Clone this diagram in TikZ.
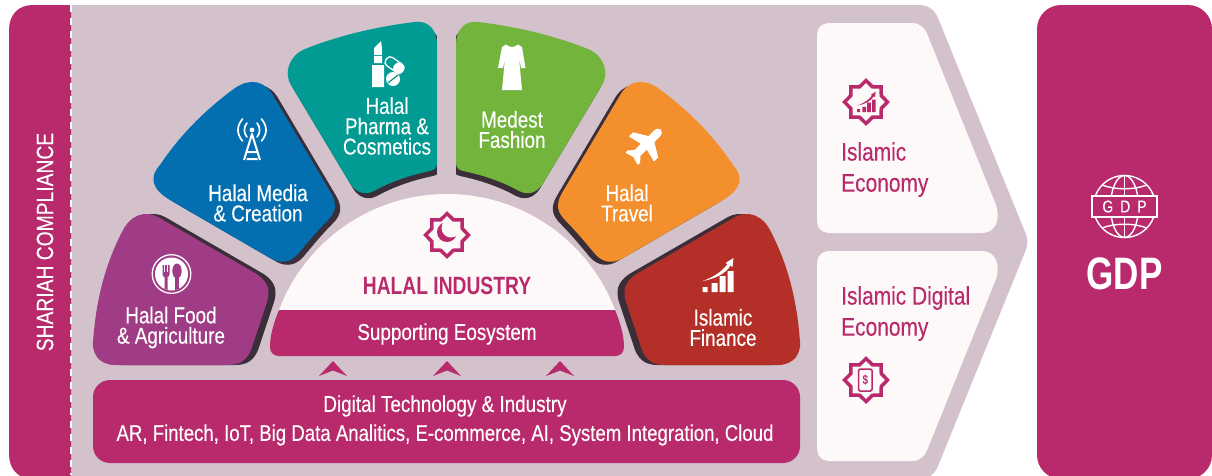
\documentclass[tikz,border=0pt]{standalone}
\usepackage{fontspec}
\setmainfont{Liberation Sans}[FakeStretch=0.82,FakeBold=0.2]
\newfontfamily\condb{Liberation Sans}[FakeStretch=0.77]
\definecolor{magenta1}{HTML}{B92A6C}
\definecolor{mauve}{HTML}{D3C1CB}
\definecolor{panelc}{HTML}{FEF9F9}
\definecolor{shadowc}{HTML}{3A2F38}
\definecolor{purplec}{HTML}{A03C85}
\definecolor{bluec}{HTML}{036EB0}
\definecolor{tealc}{HTML}{019B93}
\definecolor{greenc}{HTML}{72B43C}
\definecolor{orangec}{HTML}{F48F2D}
\definecolor{redc}{HTML}{B32F27}
\newcommand\petalFood{(158,217) -- (255,273) .. controls (270,282) and (270,292) .. (267,302) -- (251,350) .. controls (246,362) and (238,365) .. (228,365) -- (115,365) .. controls (98,365) and (92,352) .. (93,342) .. controls (96,300) and (105,265) .. (122,232) .. controls (130,215) and (145,210) .. (158,217) -- cycle}
\newcommand\petalMedia{(274,97) -- (331,193) .. controls (338,205) and (335,213) .. (328,220) .. controls (318,230) and (307,243) .. (298,254) .. controls (290,263) and (280,264) .. (270,258) -- (170,200) .. controls (153,190) and (148,178) .. (160,165) .. controls (180,135) and (205,110) .. (235,88) .. controls (250,78) and (265,80) .. (274,97) -- cycle}
\newcommand\petalPharma{(415,22) .. controls (428,20) and (437,30) .. (437,44) -- (437,163) .. controls (437,168) and (434,170) .. (430,171) .. controls (410,175) and (390,182) .. (374,191) .. controls (362,197) and (353,190) .. (348,180) -- (291,85) .. controls (283,72) and (290,55) .. (305,49) .. controls (340,35) and (380,26) .. (415,22) -- cycle}
\newcommand\petal[3]{\fill[shadowc,shift={(#3)}] #1; \fill[#2] #1;}
\newcommand\petalTop[1]{\begin{scope}\clip (280,0) rectangle (436.8,210); \fill[shadowc,shift={(3,5)}] \petalPharma;\end{scope}\fill[#1] \petalPharma;}
\newcommand\starglyph{(0:21.5) -- (22.5:16.5) -- (45:21.5) -- (67.5:16.5) -- (90:21.5) -- (112.5:16.5) -- (135:21.5) -- (157.5:16.5) -- (180:21.5) -- (202.5:16.5) -- (225:21.5) -- (247.5:16.5) -- (270:21.5) -- (292.5:16.5) -- (315:21.5) -- (337.5:16.5) -- cycle}
\newcommand\chartglyph{(-15,12) rectangle (-10,17) (-6,8) rectangle (0,17) (2,1) rectangle (8,17) (10,-4) rectangle (16,17) (-15,6) .. controls (-3,2) and (6,-5) .. (10,-11) -- (8,-12) -- (16,-17) -- (15,-8) -- (13,-9.5) .. controls (8,-1) and (-3,4) .. (-15,6) -- cycle}
\newcommand\chevron[1]{\fill[magenta1,shift={(#1,0)}] (0,361) -- (14,376) -- (0,370.5) -- (-14,376) -- cycle;}
\tikzset{
  lab/.style={text=white,align=center,inner sep=0pt,font=\fontsize{23}{20.3}\selectfont},
  panellab/.style={text=magenta1,align=left,inner sep=0pt,anchor=west,font=\fontsize{25.5}{31}\selectfont},
  starline/.style={draw=magenta1,line width=3.5pt,line join=miter,fill=none}
}
\begin{document}
\begin{tikzpicture}[x=1pt,y=-1pt]
\useasboundingbox (0,0) rectangle (1212,475);
\clip (0,0) rectangle (1212,475);
% background arrow
\fill[mauve] (71,5) -- (918,5) .. controls (928,5) and (934,9) .. (938,18) -- (1025,232) .. controls (1028,239) and (1028,245) .. (1025,252) -- (938,466) .. controls (934,475) and (928,479) .. (918,479) -- (71,479) -- cycle;
% compliance band
\fill[magenta1] (71,5) -- (33,5) .. controls (18,5) and (9,15) .. (9,30) -- (9,454) .. controls (9,469) and (18,479) .. (33,479) -- (71,479) -- cycle;
\draw[white,line width=1.5pt,dash pattern=on 7pt off 6pt] (71,5) -- (71,475);
\node[lab,rotate=90,font=\fontsize{23.5}{26}\selectfont] (shariah) at (45,242) {SHARIAH COMPLIANCE};
% GDP box
\fill[magenta1,rounded corners=24pt] (1037,5) rectangle (1212,479);
% panels
\fill[panelc] (829,23) -- (912,23) .. controls (920,23) and (925,28) .. (928,36) -- (996,205) .. controls (1001,220) and (995,233) .. (982,233) -- (829,233) .. controls (822,233) and (817,228) .. (817,221) -- (817,35) .. controls (817,28) and (822,23) .. (829,23) -- cycle;
\fill[panelc] (829,461) -- (912,461) .. controls (920,461) and (925,456) .. (928,448) -- (996,279) .. controls (1001,264) and (995,251) .. (982,251) -- (829,251) .. controls (822,251) and (817,256) .. (817,263) -- (817,449) .. controls (817,456) and (822,461) .. (829,461) -- cycle;
% petals
\petal{\petalFood}{purplec}{7,0}
\petal{\petalMedia}{bluec}{5.2,3}
\petalTop{tealc}
\begin{scope}[shift={(893,0)},xscale=-1]
\petalTop{greenc}
\petal{\petalMedia}{orangec}{5.2,3}
\petal{\petalFood}{redc}{7,0}
\end{scope}
% dome and band
\fill[panelc] (279,310) .. controls (305.5,240.2) and (372.3,194) .. (447,194) .. controls (521.7,194) and (588.5,240.2) .. (615,310) -- cycle;
\fill[magenta1] (279,310) -- (615,310) .. controls (620,322) and (624,335) .. (624,347) .. controls (624,353) and (620,356) .. (615,356) -- (279,356) .. controls (274,356) and (270,353) .. (270,347) .. controls (270,335) and (274,322) .. (279,310) -- cycle;
% chevrons
\chevron{333}\chevron{447}\chevron{560}
% digital bar
\fill[magenta1,rounded corners=17pt] (93,380) rectangle (800,463);
% stars
\fill[magenta1] (447,232) circle[radius=10];
\fill[panelc] (451,228) circle[radius=9.5];
\draw[starline,shift={(447,235)}] \starglyph;
\draw[starline,shift={(866,102)}] \starglyph;
\draw[starline,shift={(866,380)}] \starglyph;
\fill[magenta1,shift={(866,102)},scale=0.6] \chartglyph;
\draw[magenta1,line width=1.5pt,rounded corners=1.5pt] (858.5,369) rectangle (872,391);
\node[text=magenta1,inner sep=0pt,font=\condb\fontsize{13}{13}\bfseries\selectfont] (dollar) at (865.3,380) {\$};
% food icon
\draw[white,line width=1.3pt] (171.5,274) circle[radius=19.3];
\fill[white] (171.5,274) circle[radius=16.5];
\begin{scope}
\clip (171.5,274) circle[radius=16.5];
\fill[purplec] (162.5,265) -- (164,265) -- (164,272) -- (165.2,272) -- (165.2,265) -- (166.8,265) -- (166.8,272) -- (168,272) -- (168,265) -- (169.5,265) -- (169.5,274) .. controls (169.5,276) and (168.5,277) .. (167.5,277) -- (167.5,292) -- (164.5,292) -- (164.5,277) .. controls (163.5,277) and (162.5,276) .. (162.5,274) -- cycle;
\fill[purplec] (177,271) ellipse[x radius=4.7,y radius=7.5];
\fill[purplec] (175.2,276) rectangle (178.8,292);
\end{scope}
% antenna icon
\draw[white,line width=2pt,line join=round] (244,160) -- (252,134) -- (260,160) (247,152) -- (257,152) (246.5,159) -- (257.5,159);
\fill[white] (252,130) circle[radius=2.4];
\draw[white,line width=1.7pt,line cap=round] (247,123) .. controls (243.5,127) and (243.5,133) .. (247,137) (257,123) .. controls (260.5,127) and (260.5,133) .. (257,137) (242.5,119) .. controls (236.5,126) and (236.5,134) .. (242.5,141) (261.5,119) .. controls (267.5,126) and (267.5,134) .. (261.5,141);
% lipstick and pills
\fill[white] (372,65) rectangle (384,87) (374,56) rectangle (382,63) (374,55) -- (374,48) -- (381,41) .. controls (382,47) and (382,50) .. (382,55) -- cycle;
\begin{scope}[shift={(394.5,65)},rotate=-35]
\draw[white,line width=1.3pt,fill=tealc,rounded corners=4pt] (-10,-5) rectangle (10,5);
\fill[white,rounded corners=4pt] (0,-5) rectangle (10.6,5.6);
\end{scope}
\fill[white] (393,79) circle[radius=7];
\draw[tealc,line width=1.2pt] (388,83) -- (398,75);
% dress
\fill[white,line join=round] (506,44.5) .. controls (508,46) and (510,47) .. (512,47) .. controls (514,47) and (516,46) .. (518,44.5) -- (522,47) -- (525.5,68) -- (521,68) -- (519,58) -- (522,90) -- (502,90) -- (505,58) -- (503,68) -- (498,68) -- (502,47) -- cycle;
% plane
\begin{scope}[shift={(646,144.5)},rotate=45,scale=0.82]
\fill[white,draw=white,line width=1pt,line join=round] (25,0) .. controls (25,-3) and (22,-4.5) .. (18,-4.5) -- (9,-4.5) -- (-1,-21) -- (-7,-21) -- (-3,-4.5) -- (-15,-4.5) -- (-21,-10) -- (-24,-10) -- (-21,0) -- (-24,10) -- (-21,10) -- (-15,4.5) -- (-3,4.5) -- (-7,21) -- (-1,21) -- (9,4.5) -- (18,4.5) .. controls (22,4.5) and (25,3) .. (25,0) -- cycle;
\end{scope}
% finance chart
\fill[white,shift={(717.5,275)}] \chartglyph;
% globe
\begin{scope}[white,line width=1.4pt]
\draw (1124.5,206.5) circle[radius=31];
\draw (1124.5,206.5) ellipse[x radius=14,y radius=31];
\draw (1124.5,175.5) -- (1124.5,237.5);
\draw (1102,185) .. controls (1115,190) and (1134,190) .. (1147,185);
\draw (1102,228) .. controls (1115,223) and (1134,223) .. (1147,228);
\draw[fill=magenta1] (1092,196) rectangle (1157,217);
\end{scope}
\node[text=white,inner sep=0pt,font=\fontsize{17}{17}\selectfont] (gdpmark) at (1124.5,206.5) {G\hspace{7pt}D\hspace{7pt}P};
% texts
\node[lab] (food) at (171,327.5) {Halal Food\\\& Agriculture};
\node[lab] (media) at (258,203) {Halal Media\\\& Creation};
\node[lab] (pharma) at (387,126) {Halal\\Pharma \&\\Cosmetics};
\node[lab] (fashion) at (512,129.5) {Medest\\Fashion};
\node[lab] (travel) at (627,203) {Halal\\Travel};
\node[lab] (finance) at (723,327.5) {Islamic\\Finance};
\node[text=magenta1,inner sep=0pt,font=\condb\fontsize{25}{25}\bfseries\selectfont] (halal) at (447,286) {HALAL INDUSTRY};
\node[lab] (support) at (447,334) {Supporting Eosystem};
\node[lab] (digital) at (445,406) {Digital Technology \& Industry};
\node[lab,font=\fontsize{22.7}{24}\selectfont] (digital2) at (445,435) {AR, Fintech, IoT, Big Data Analitics, E-commerce, AI, System Integration, Cloud};
\node[panellab] (ie) at (841,169.5) {Islamic\\Economy};
\node[panellab] (ide) at (841,313.5) {Islamic Digital\\Economy};
\node[text=white,inner sep=0pt,font=\condb\fontsize{45.5}{46}\bfseries\selectfont] (gdp) at (1124.5,274) {GDP};
\end{tikzpicture}
\end{document}
